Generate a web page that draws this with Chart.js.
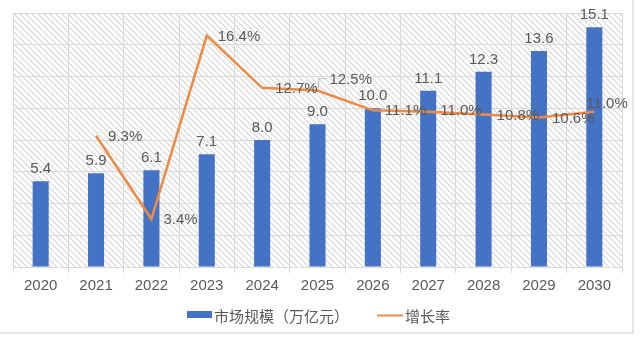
<!DOCTYPE html>
<html>
<head>
<meta charset="utf-8">
<script src="https://cdn.jsdelivr.net/npm/chart.js@4"></script>
<style>
  html, body { margin: 0; padding: 0; background: #fff; }
  #wrap { position: relative; width: 640px; height: 338px; }
  #wrap:after { content: ""; position: absolute; left: 0; top: 0; width: 632px; height: 332px;
    border-right: 2px solid #e6e6e6; border-bottom: 2px solid #e6e6e6; pointer-events: none; }
</style>
</head>
<body>
<div id="wrap"><canvas id="c" width="640" height="338"></canvas></div>
<script>
const years = ['2020', '2021', '2022', '2023', '2024', '2025', '2026', '2027', '2028', '2029', '2030']
const marketSize = [5.4, 5.9, 6.1, 7.1, 8.0, 9.0, 10.0, 11.1, 12.3, 13.6, 15.1]
const growthRate = [null, 9.3, 3.4, 16.4, 12.7, 12.5, 11.1, 11.0, 10.8, 10.6, 11.0]
const growthLabels = ['', '9.3%', '3.4%', '16.4%', '12.7%', '12.5%', '11.1%', '11.0%', '10.8%', '10.6%', '11.0%']

const BLUE = '#4472C4'
const ORANGE = '#EE8A43'
const TEXT = '#595959'
const FONT = '"Liberation Sans", Arial, "Noto Sans CJK SC", sans-serif'

// offsets of the growth labels from their point (left aligned, middle baseline)
const growthOffsets = [[0, 0], [12, 1], [12, 1], [11, 1], [13, 1], [12, -11], [12, 0], [12, -1], [13, 1], [13, 1], [-8, -8]]

function hatch() {
  const p = document.createElement('canvas')
  p.width = 6; p.height = 6
  const g = p.getContext('2d')
  g.fillStyle = '#ffffff'
  g.fillRect(0, 0, 6, 6)
  g.strokeStyle = '#d6d6d6'
  g.lineWidth = 1.2
  for (const o of [-6, 0, 6]) {
    g.beginPath(); g.moveTo(o, 0); g.lineTo(o + 6, 6); g.stroke()
  }
  return p
}

const backdrop = {
  id: 'backdrop',
  beforeDraw(chart) {
    const {ctx, chartArea: a} = chart
    ctx.save()
    ctx.fillStyle = ctx.createPattern(hatch(), 'repeat')
    ctx.fillRect(a.left, a.top, a.right - a.left, a.bottom - a.top)
    ctx.restore()
  }
}

const labels = {
  id: 'labels',
  afterDatasetsDraw(chart) {
    const ctx = chart.ctx
    ctx.save()
    ctx.font = '15px ' + FONT
    ctx.fillStyle = TEXT

    const bars = chart.getDatasetMeta(1).data
    ctx.textAlign = 'center'
    ctx.textBaseline = 'alphabetic'
    bars.forEach((b, i) => ctx.fillText(marketSize[i].toFixed(1), b.x, b.y - 8))

    const pts = chart.getDatasetMeta(0).data
    ctx.textAlign = 'left'
    ctx.textBaseline = 'middle'
    pts.forEach((p, i) => {
      if (growthRate[i] == null) return
      const [dx, dy] = growthOffsets[i]
      ctx.fillText(growthLabels[i], p.x + dx, p.y + dy)
    })

    // leader line for 12.5%
    const p5 = pts[5]
    ctx.strokeStyle = '#bfbfbf'
    ctx.lineWidth = 1
    ctx.beginPath()
    ctx.moveTo(p5.x + 1, p5.y - 2)
    ctx.lineTo(p5.x + 1, p5.y - 12)
    ctx.lineTo(p5.x + 10, p5.y - 12)
    ctx.stroke()
    ctx.restore()
  }
}

const legend = {
  id: 'customLegend',
  afterDraw(chart) {
    const ctx = chart.ctx
    ctx.save()
    ctx.fillStyle = BLUE
    ctx.fillRect(187, 311, 25, 7)
    ctx.strokeStyle = ORANGE
    ctx.lineWidth = 2
    ctx.beginPath(); ctx.moveTo(377, 315.5); ctx.lineTo(403, 315.5); ctx.stroke()
    ctx.fillStyle = TEXT
    ctx.font = '15px "Noto Sans CJK SC", sans-serif'
    ctx.textBaseline = 'middle'
    ctx.fillText('市场规模（万亿元）', 214, 316)
    ctx.fillText('增长率', 405, 316)
    ctx.restore()
  }
}

new Chart(document.getElementById('c'), {
  data: {
    labels: years,
    datasets: [
      {
        type: 'line',
        label: '增长率',
        data: growthRate,
        yAxisID: 'y1',
        borderColor: ORANGE,
        borderWidth: 2.5,
        pointRadius: 0,
        tension: 0,
        order: 0
      },
      {
        type: 'bar',
        label: '市场规模（万亿元）',
        data: marketSize,
        yAxisID: 'y',
        backgroundColor: BLUE,
        barPercentage: 0.58,
        categoryPercentage: 0.5,
        order: 1
      }
    ]
  },
  options: {
    responsive: false,
    animation: false,
    layout: { padding: { left: 13, right: 18, top: 13, bottom: 39 } },
    plugins: { legend: { display: false }, tooltip: { enabled: false } },
    scales: {
      x: {
        offset: true,
        grid: { color: '#d9d9d9', offset: true, tickLength: 6, tickColor: '#d9d9d9' },
        border: { color: '#d9d9d9' },
        ticks: { color: TEXT, font: { size: 15, family: FONT }, padding: 4, maxRotation: 0 }
      },
      y: {
        min: 0, max: 16,
        ticks: { stepSize: 2, display: false },
        grid: { color: '#d9d9d9', drawTicks: false },
        border: { display: false }
      },
      y1: { display: false, min: 0, max: 18 }
    }
  },
  plugins: [backdrop, labels, legend]
})
</script>
</body>
</html>
